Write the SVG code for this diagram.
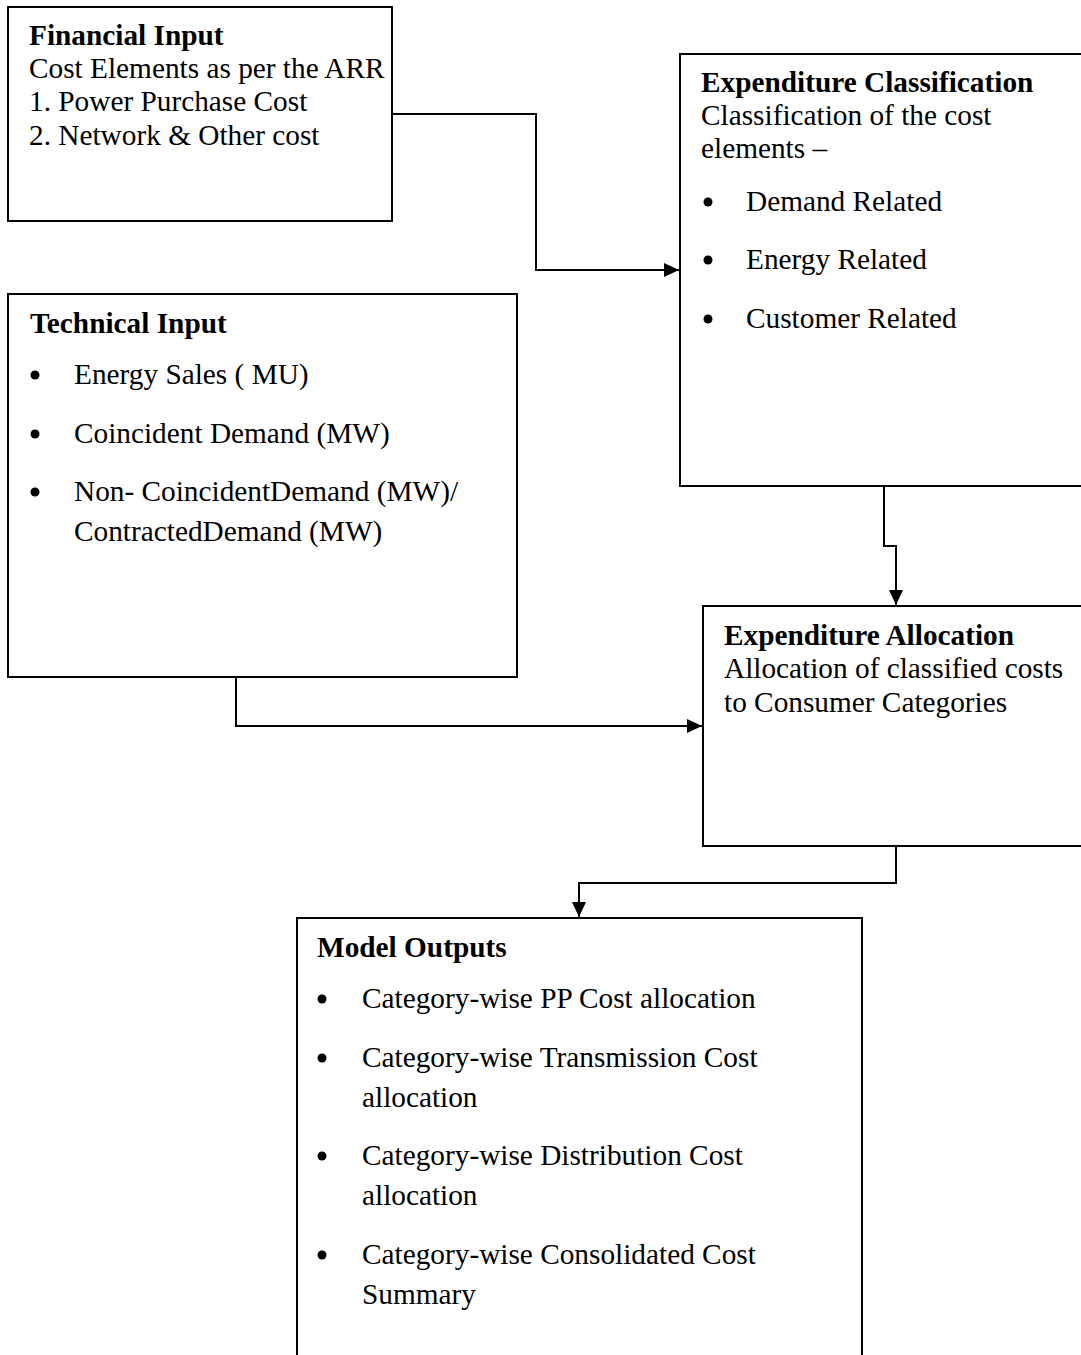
<svg xmlns="http://www.w3.org/2000/svg" width="1081" height="1355" viewBox="0 0 1081 1355">
<style>
  .box { fill: #ffffff; stroke: #000000; stroke-width: 2; }
  .conn { fill: none; stroke: #000000; stroke-width: 2; }
  text { font-family: "Liberation Serif", "Times New Roman", serif; font-size: 29.3px; fill: #000000; }
  .title { font-weight: bold; }
  .bullet { fill: #000000; }
</style>
<defs>
  <marker id="arrow" viewBox="0 0 15 14" refX="15" refY="7" markerWidth="15" markerHeight="14" markerUnits="userSpaceOnUse" orient="auto">
    <path d="M0,0 L15,7 L0,14 z" fill="#000000"/>
  </marker>
</defs>
<rect width="1081" height="1355" fill="#ffffff"/>

<g id="connectors">
  <path class="conn" d="M392,114 H536 V270 H679" marker-end="url(#arrow)"/>
  <path class="conn" d="M884,486 V546 H896 V605" marker-end="url(#arrow)"/>
  <path class="conn" d="M236,677 V726 H702" marker-end="url(#arrow)"/>
  <path class="conn" d="M896,846 V883 H579 V917" marker-end="url(#arrow)"/>
</g>

<g id="financial-input">
  <rect class="box" x="8" y="7" width="384" height="214"/>
  <text class="title" x="29" y="45">Financial Input</text>
  <text x="29" y="78">Cost Elements as per the ARR</text>
  <text x="29" y="111">1. Power Purchase Cost</text>
  <text x="29" y="145">2. Network &amp; Other cost</text>
</g>

<g id="expenditure-classification">
  <rect class="box" x="680" y="54" width="420" height="432"/>
  <text class="title" x="701" y="92">Expenditure Classification</text>
  <text x="701" y="125">Classification of the cost</text>
  <text x="701" y="158">elements –</text>
  <circle class="bullet" cx="708" cy="202" r="4.5"/>
  <text x="746" y="211">Demand Related</text>
  <circle class="bullet" cx="708" cy="260" r="4.5"/>
  <text x="746" y="269">Energy Related</text>
  <circle class="bullet" cx="708" cy="319" r="4.5"/>
  <text x="746" y="328">Customer Related</text>
</g>

<g id="technical-input">
  <rect class="box" x="8" y="294" width="509" height="383"/>
  <text class="title" x="30" y="333">Technical Input</text>
  <circle class="bullet" cx="35" cy="375" r="4.5"/>
  <text x="74" y="384">Energy Sales ( MU)</text>
  <circle class="bullet" cx="35" cy="434" r="4.5"/>
  <text x="74" y="443">Coincident Demand (MW)</text>
  <circle class="bullet" cx="35" cy="492" r="4.5"/>
  <text x="74" y="501">Non- CoincidentDemand (MW)/</text>
  <text x="74" y="541">ContractedDemand (MW)</text>
</g>

<g id="expenditure-allocation">
  <rect class="box" x="703" y="606" width="400" height="240"/>
  <text class="title" x="724" y="645">Expenditure Allocation</text>
  <text x="724" y="678">Allocation of classified costs</text>
  <text x="724" y="712">to Consumer Categories</text>
</g>

<g id="model-outputs">
  <rect class="box" x="297" y="918" width="565" height="460"/>
  <text class="title" x="317" y="957">Model Outputs</text>
  <circle class="bullet" cx="322" cy="999" r="4.5"/>
  <text x="362" y="1008">Category-wise PP Cost allocation</text>
  <circle class="bullet" cx="322" cy="1058" r="4.5"/>
  <text x="362" y="1067">Category-wise Transmission Cost</text>
  <text x="362" y="1107">allocation</text>
  <circle class="bullet" cx="322" cy="1156" r="4.5"/>
  <text x="362" y="1165">Category-wise Distribution Cost</text>
  <text x="362" y="1205">allocation</text>
  <circle class="bullet" cx="322" cy="1255" r="4.5"/>
  <text x="362" y="1264">Category-wise Consolidated Cost</text>
  <text x="362" y="1304">Summary</text>
</g>
</svg>
